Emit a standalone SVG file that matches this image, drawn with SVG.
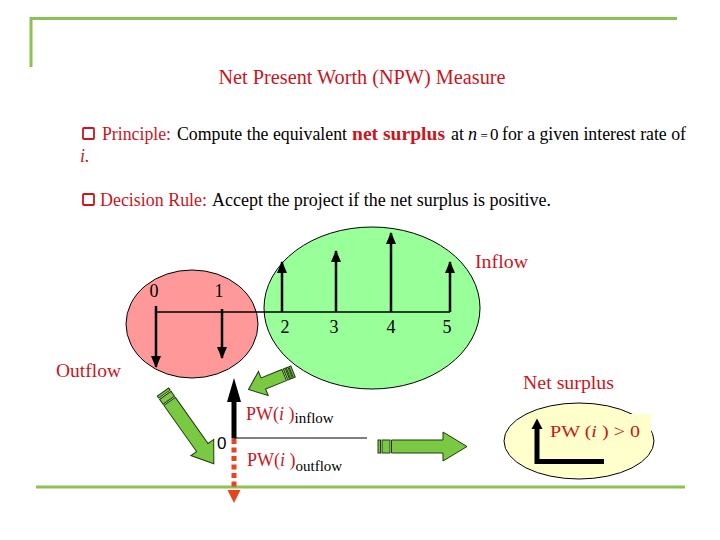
<svg xmlns="http://www.w3.org/2000/svg" width="720" height="540" viewBox="0 0 720 540">
<style>
.serif{font-family:"Liberation Serif","Times New Roman",serif;}
.sans{font-family:"Liberation Sans",Arial,sans-serif;}
.red{fill:#C8161D;}
.blk{fill:#000;}
.frame{stroke:#8DC152;stroke-width:3;fill:none;}
.flow{stroke:#000;stroke-width:2.5;fill:none;}
.garrow{fill:#7AC943;stroke:#1E3A0E;stroke-width:1;}
</style>
<defs>
<marker id="ah" markerUnits="userSpaceOnUse" markerWidth="12" markerHeight="10" refX="11" refY="5" orient="auto" viewBox="0 0 12 10">
<path d="M0,0 L12,5 L0,10 Z" fill="#000"/>
</marker>
</defs>
<rect width="720" height="540" fill="#fff"/>

<g id="frame">
<path class="frame" d="M31,67 V18.5 H677"/>
<line class="frame" x1="36" y1="487" x2="685" y2="487"/>
</g>

<g id="title">
<text class="serif red" x="362" y="84" font-size="20" text-anchor="middle" textLength="287" lengthAdjust="spacingAndGlyphs">Net Present Worth (NPW) Measure</text>
</g>

<g id="principle">
<rect x="83" y="128" width="11" height="11" rx="1" fill="#fff" stroke="#C8161D" stroke-width="1.8"/>
<text class="serif red" x="102" y="140" font-size="18" textLength="69" lengthAdjust="spacingAndGlyphs">Principle:</text>
<text class="serif blk" x="177" y="140" font-size="18" textLength="170" lengthAdjust="spacingAndGlyphs">Compute the equivalent</text>
<text class="serif red" x="352" y="140" font-size="18" font-weight="bold" textLength="93" lengthAdjust="spacingAndGlyphs">net surplus</text>
<text class="serif blk" x="451" y="140" font-size="18">at</text>
<text class="serif blk" x="468" y="140" font-size="18" font-style="italic">n</text>
<text class="serif blk" x="480.5" y="140" font-size="13">=</text>
<text class="serif blk" x="490" y="140" font-size="17">0</text>
<text class="serif blk" x="502" y="140" font-size="18" textLength="184" lengthAdjust="spacingAndGlyphs">for a given interest rate of</text>
<text class="serif red" x="80" y="162" font-size="18" font-style="italic">i.</text>
</g>

<g id="decision">
<rect x="83" y="194" width="11" height="11" rx="1" fill="#fff" stroke="#C8161D" stroke-width="1.8"/>
<text class="serif red" x="100" y="206" font-size="18" textLength="107" lengthAdjust="spacingAndGlyphs">Decision Rule:</text>
<text class="serif blk" x="212" y="206" font-size="18" textLength="339" lengthAdjust="spacingAndGlyphs">Accept the project if the net surplus is positive.</text>
</g>

<g id="outflow-region">
<ellipse cx="192" cy="324" rx="66" ry="54" fill="#FF9999" stroke="#000" stroke-width="1"/>
</g>

<g id="inflow-region">
<ellipse cx="372" cy="308" rx="108" ry="81" fill="#99FF99" stroke="#000" stroke-width="1"/>
</g>

<g id="timeline">
<line x1="156" y1="312" x2="450" y2="312" stroke="#000" stroke-width="1.5"/>
<line class="flow" x1="156" y1="306" x2="156" y2="367" marker-end="url(#ah)"/>
<line class="flow" x1="222" y1="309" x2="222" y2="358" marker-end="url(#ah)"/>
<line class="flow" x1="282" y1="312" x2="282" y2="262" marker-end="url(#ah)"/>
<line class="flow" x1="336" y1="312" x2="336" y2="251" marker-end="url(#ah)"/>
<line class="flow" x1="391" y1="312" x2="391" y2="233" marker-end="url(#ah)"/>
<line class="flow" x1="450" y1="312" x2="450" y2="262" marker-end="url(#ah)"/>
<g class="serif blk" font-size="18" text-anchor="middle">
<text x="154" y="297">0</text>
<text x="219" y="297">1</text>
<text x="285" y="333">2</text>
<text x="334" y="333">3</text>
<text x="391" y="333">4</text>
<text x="447" y="333">5</text>
</g>
</g>

<g id="labels" class="serif red" font-size="19">
<text x="475" y="268" textLength="53" lengthAdjust="spacingAndGlyphs">Inflow</text>
<text x="56" y="377" textLength="65" lengthAdjust="spacingAndGlyphs">Outflow</text>
<text x="523" y="389" textLength="91" lengthAdjust="spacingAndGlyphs">Net surplus</text>
</g>

<g id="pw-diagram">
<line x1="234" y1="438" x2="367" y2="438" stroke="#000" stroke-width="1.2"/>
<rect x="231.5" y="395" width="5" height="43.5" fill="#000"/>
<path d="M227,402 L234,378 L241,402 Z" fill="#000"/>
<line x1="234" y1="439" x2="234" y2="490" stroke="#E8451F" stroke-width="5" stroke-dasharray="5,3.5"/>
<path d="M227.5,490 L240.5,490 L234,503 Z" fill="#E8451F"/>
<text class="sans blk" x="217" y="449" font-size="17">0</text>
<text class="serif" x="246" y="420" font-size="18"><tspan class="red">PW(</tspan><tspan class="red" font-style="italic">i</tspan><tspan class="red"> )</tspan><tspan class="blk" font-size="15" dy="3">inflow</tspan></text>
<text class="serif" x="247" y="466" font-size="18"><tspan class="red">PW(</tspan><tspan class="red" font-style="italic">i</tspan><tspan class="red"> )</tspan><tspan class="blk" font-size="15" dy="5">outflow</tspan></text>
</g>

<g id="net-surplus">
<ellipse cx="579" cy="441" rx="75" ry="38" fill="#FFFFCC" stroke="#000" stroke-width="1"/>
<rect x="546" y="414" width="105" height="33" fill="#FFFFCC"/>
<path d="M604,461.5 H537 V427" fill="none" stroke="#000" stroke-width="5"/>
<path d="M531.5,429 L537,418.5 L542.5,429 Z" fill="#000"/>
<text class="serif red" x="550" y="437" font-size="17" textLength="90" lengthAdjust="spacingAndGlyphs">PW (<tspan font-style="italic">i</tspan> ) &gt; 0</text>
</g>

<g id="connectors">
<g transform="translate(378,446.5)">
<rect class="garrow" x="0" y="-6.5" width="2.5" height="13"/>
<rect class="garrow" x="4" y="-6.5" width="8" height="13"/>
<path class="garrow" d="M13.5,-6.5 H65 V-14.5 L89,0 L65,14.5 V6.5 H13.5 Z"/>
</g>
<g transform="translate(163,392) rotate(54.7)">
<rect class="garrow" x="0" y="-7" width="2.5" height="14"/>
<rect class="garrow" x="4" y="-7" width="6" height="14"/>
<path class="garrow" d="M11.5,-7 H68 V-14 L88,0 L68,14 V7 H11.5 Z"/>
</g>
<g transform="translate(293,371.5) rotate(158)">
<rect class="garrow" x="0" y="-6" width="2" height="12"/>
<rect class="garrow" x="3" y="-6" width="2" height="12"/>
<rect class="garrow" x="6" y="-6" width="2" height="12"/>
<path class="garrow" d="M9.5,-6 H32 V-13 L48,0 L32,13 V6 H9.5 Z"/>
</g>
</g>
</svg>
